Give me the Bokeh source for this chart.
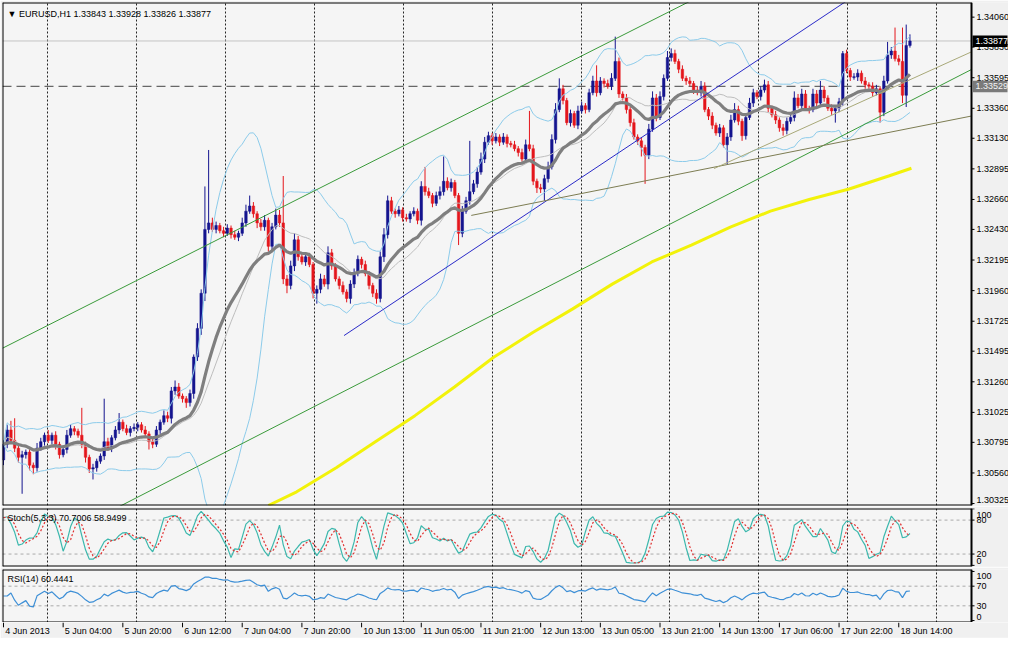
import numpy as np
import pandas as pd
from bokeh.plotting import figure
from bokeh.models import (ColumnDataSource, FixedTicker, Range1d, Label, Grid)
from bokeh.layouts import column
from bokeh.embed import file_html
from bokeh.resources import INLINE
from bokeh.core.properties import value

BASE = 1.3
PIP = 0.0001

# ---------------- data (prices in pips above 1.3000) ----------------
first_open = 66
close_pips = [
    78, 89, 81, 75, 68, 70, 72, 62, 60, 75,
    80, 85, 81, 85, 78, 70, 74, 85, 90, 88,
    85, 78, 68, 59, 60, 65, 69, 80, 75, 83,
    89, 95, 90, 87, 90, 91, 93, 89, 86, 80,
    78, 89, 95, 100, 98, 119, 122, 115, 113, 110,
    117, 145, 167, 194, 243, 248, 243, 246, 242, 240,
    244, 239, 237, 240, 248, 257, 261, 255, 248, 245,
    250, 230, 245, 254, 248, 205, 200, 215, 235, 222,
    218, 222, 216, 194, 197, 205, 201, 225, 215, 205,
    200, 195, 190, 201, 209, 220, 216, 209, 200, 194,
    190, 222, 239, 265, 257, 255, 258, 252, 251, 255,
    257, 250, 276, 272, 269, 263, 269, 272, 280, 275,
    279, 269, 240, 257, 265, 272, 278, 287, 297, 310,
    315, 311, 314, 310, 314, 309, 308, 305, 302, 297,
    308, 305, 280, 275, 274, 282, 291, 312, 335, 351,
    342, 325, 332, 323, 334, 338, 335, 348, 357, 348,
    357, 355, 353, 359, 372, 347, 344, 335, 325, 314,
    311, 306, 300, 320, 344, 329, 345, 359, 375, 378,
    372, 366, 359, 357, 355, 350, 348, 353, 335, 330,
    323, 317, 321, 308, 314, 327, 335, 326, 315, 329,
    340, 348, 345, 350, 354, 336, 331, 327, 321, 319,
    326, 329, 344, 338, 347, 336, 335, 347, 340, 350,
    344, 336, 334, 336, 341, 378, 365, 360, 360, 363,
    357, 354, 353, 348, 351, 333, 357, 377, 380, 374,
    372, 346, 384.3, 387.7,
]
wick_up = [
    3, 4, 7, 17, 2, 3, 2, 3, 2, 4,
    3, 2, 4, 2, 3, 2, 3, 4, 3, 2,
    2, 21, 2, 2, 3, 2, 2, 33, 3, 2,
    3, 7, 2, 3, 2, 3, 2, 2, 3, 2,
    2, 3, 2, 4, 3, 3, 5, 3, 2, 2,
    3, 2, 4, 3, 33, 56, 4, 3, 2, 3,
    3, 2, 3, 2, 4, 5, 8, 3, 2, 3,
    4, 2, 3, 5, 4, 36, 3, 4, 5, 3,
    3, 2, 3, 2, 3, 4, 3, 5, 3, 2,
    2, 3, 2, 3, 4, 3, 2, 3, 2, 2,
    3, 4, 5, 4, 3, 2, 3, 2, 3, 2,
    3, 2, 4, 15, 3, 2, 3, 4, 19, 3,
    3, 2, 2, 4, 3, 39, 3, 4, 5, 4,
    3, 2, 3, 2, 3, 2, 2, 3, 2, 3,
    4, 26, 3, 2, 3, 3, 4, 4, 5, 8,
    3, 2, 3, 2, 4, 3, 2, 3, 4, 12,
    3, 2, 3, 4, 19, 3, 2, 3, 2, 3,
    2, 3, 2, 4, 5, 3, 4, 3, 5, 4,
    3, 2, 3, 2, 3, 2, 3, 4, 3, 2,
    3, 2, 3, 2, 3, 4, 5, 3, 2, 3,
    4, 3, 2, 3, 4, 3, 2, 3, 2, 3,
    3, 2, 5, 3, 4, 3, 2, 4, 3, 7,
    3, 2, 3, 2, 3, 2, 3, 2, 3, 3,
    2, 3, 2, 3, 3, 2, 4, 10, 3, 18,
    3, 26, 16, 5.1,
]
wick_dn = [
    4, 3, 2, 3, 4, 28, 3, 4, 5, 3,
    2, 3, 2, 3, 4, 3, 2, 3, 2, 3,
    2, 3, 4, 3, 8, 3, 2, 3, 2, 3,
    2, 3, 2, 2, 3, 2, 3, 2, 3, 6,
    3, 2, 3, 2, 3, 4, 3, 2, 3, 4,
    3, 4, 3, 5, 6, 3, 2, 3, 2, 3,
    2, 3, 2, 3, 2, 3, 2, 3, 4, 3,
    3, 4, 3, 2, 3, 4, 6, 3, 4, 3,
    2, 3, 2, 4, 8, 3, 2, 4, 3, 2,
    3, 2, 3, 4, 3, 2, 3, 2, 3, 3,
    4, 3, 4, 3, 2, 3, 2, 3, 2, 3,
    2, 3, 4, 3, 2, 3, 2, 3, 3, 2,
    3, 2, 9, 3, 2, 3, 2, 3, 2, 3,
    2, 3, 2, 3, 2, 3, 2, 2, 3, 2,
    3, 2, 3, 4, 3, 9, 3, 2, 3, 2,
    3, 2, 3, 2, 3, 2, 3, 2, 2, 3,
    2, 3, 2, 3, 2, 3, 2, 3, 3, 2,
    3, 7, 22, 3, 2, 3, 2, 3, 2, 3,
    2, 3, 2, 3, 2, 3, 2, 3, 2, 3,
    3, 2, 3, 2, 15, 3, 2, 3, 4, 3,
    2, 3, 2, 3, 2, 3, 2, 3, 3, 4,
    3, 2, 3, 2, 3, 2, 3, 2, 3, 2,
    3, 2, 3, 9, 3, 3, 2, 3, 2, 3,
    2, 3, 2, 3, 2, 8, 3, 2, 3, 2,
    3, 6, 9, 1.7,
]

# long moving average (yellow), read at sample bars
yellow_bars = [71, 78.6, 89.2, 99.7, 110.3, 120.9, 131.5, 142, 152.6, 163.2,
               173.8, 184.4, 195, 205.6, 216, 226.7, 237.3, 243.4]
yellow_pips = [31, 41.5, 60, 80, 100, 122, 145, 164, 182, 201,
               218, 231, 245, 257, 266, 274, 284, 290]

# hand-drawn trend lines: (bar0, pips0, bar1, pips1, extend_left, colour)
trend_lines = [
    (-0.79, 151.0, 184.4, 418.75, True, "#3a9a3a"),
    (36.2, 37.75, 259.8, 366.25, True, "#3a9a3a"),
    (91.3, 161.5, 225.4, 417.25, False, "#2a2ac8"),
    (125.4, 253.75, 259.8, 330.25, False, "#7c7c52"),
    (190.5, 289.75, 259.8, 379.75, False, "#a8a878"),
]
hline_dashed = 1.33529
bid_price = 1.33877

price_ticks = [1.34060, 1.33830, 1.33595, 1.33360, 1.33130, 1.32895, 1.32660,
               1.32430, 1.32195, 1.31960, 1.31725, 1.31495, 1.31260, 1.31025,
               1.30795, 1.30560, 1.30325]
stoch_ticks = [100, 80, 20, 0]
rsi_ticks = [100, 70, 30, 0]
time_labels = ["4 Jun 2013", "5 Jun 04:00", "5 Jun 20:00", "6 Jun 12:00",
               "7 Jun 04:00", "7 Jun 20:00", "10 Jun 13:00", "11 Jun 05:00",
               "11 Jun 21:00", "12 Jun 13:00", "13 Jun 05:00", "13 Jun 21:00",
               "14 Jun 13:00", "17 Jun 06:00", "17 Jun 22:00", "18 Jun 14:00"]
time_label_bars = [0, 16, 32, 48, 64, 80, 96, 112, 128, 144, 160, 176, 192,
                   208, 224, 240]
grid_bars = [11.9 + 23.82 * k for k in range(11)]

header_main = "\u25BC EURUSD,H1  1.33843 1.33928 1.33826 1.33877"
header_stoch = "Stoch(5,3,3) 70.7006 58.9499"
header_rsi = "RSI(14) 60.4441"

# ---------------- derived series ----------------
n = len(close_pips)
bars = np.arange(n, dtype=float)
closes = np.array(close_pips, float)
opens = np.concatenate([[first_open], closes[:-1]])
top = np.maximum(opens, closes)
bot = np.minimum(opens, closes)
highs = top + np.array(wick_up, float)
lows = bot - np.array(wick_dn, float)

def px(v):
    return BASE + np.asarray(v, float) * PIP

def pxf(v):
    return float(BASE + v * PIP)

cs = pd.Series(px(closes))
hs = pd.Series(px(highs))
ls = pd.Series(px(lows))

ema20 = cs.ewm(span=20, adjust=False).mean()
sma20 = cs.rolling(20, min_periods=1).mean()
sd20 = cs.rolling(20, min_periods=1).std(ddof=0)
bb_up = sma20 + 2 * sd20
bb_dn = sma20 - 2 * sd20

ll5 = ls.rolling(5, min_periods=1).min()
hh5 = hs.rolling(5, min_periods=1).max()
k_raw = 100 * (cs - ll5).rolling(3, min_periods=1).sum() / (hh5 - ll5).rolling(3, min_periods=1).sum()
stoch_k = k_raw.fillna(50)
stoch_d = stoch_k.rolling(3, min_periods=1).mean()

delta = cs.diff().fillna(0)
gain = delta.clip(lower=0).ewm(alpha=1 / 14, adjust=False).mean()
loss = (-delta.clip(upper=0)).ewm(alpha=1 / 14, adjust=False).mean()
rsi = 100 - 100 / (1 + gain / loss.replace(0, np.nan))
rsi = rsi.fillna(50)

BULL = "#14148f"
BEAR = "#e4161c"
colors = [BULL if c >= o else BEAR for o, c in zip(opens, closes)]
body_bot = np.where(top - bot < 0.6, bot - 0.3, bot)
body_top = np.where(top - bot < 0.6, top + 0.3, top)

src = ColumnDataSource(dict(x=bars, hi=px(highs), lo=px(lows), top=px(body_top),
                            bot=px(body_bot), color=colors))

# ---------------- layout constants ----------------
FONT = "Liberation Sans"
BG = "#f5f5f5"
BORDER = "#f0f0f0"
X_LEFT = -0.26
AX_X = 259.5            # bar position of the price-scale line
CHART_W = 969           # pixels from frame left to the price-scale line
FRAME_W = 1006          # full frame width (chart + price scale)
S = (AX_X - X_LEFT) / CHART_W          # bars per pixel
X_END = X_LEFT + FRAME_W * S
xr = Range1d(X_LEFT, X_END)


def base_fig(frame_h, y_lo, y_hi, top_b, bot_b):
    f = figure(frame_width=FRAME_W, frame_height=frame_h, x_range=xr,
               y_range=Range1d(y_lo, y_hi),
               min_border_left=2, min_border_right=0, min_border_top=top_b,
               min_border_bottom=bot_b, toolbar_location=None, output_backend="svg",
               x_axis_location=None, y_axis_location=None,
               background_fill_color=BG, border_fill_color=BORDER,
               outline_line_color=None)
    f.xgrid.visible = False
    f.ygrid.visible = False
    f.add_layout(Grid(dimension=0, ticker=FixedTicker(ticks=grid_bars),
                      grid_line_color="black", grid_line_dash="2 2",
                      grid_line_alpha=0.85))
    return f


def finish_panel(f, y_lo, y_hi, frame_h, ticks, labels, tags=()):
    py = (y_hi - y_lo) / frame_h     # data units per pixel
    # price-scale area
    f.quad(left=[AX_X], right=[X_END + 1], bottom=[y_lo - py * 2], top=[y_hi + py * 2],
           fill_color=BORDER, line_color=None)
    # frame border of the chart area
    f.segment(x0=[X_LEFT, X_LEFT, X_LEFT, AX_X], y0=[y_hi, y_lo, y_lo, y_lo],
              x1=[AX_X, AX_X, X_LEFT, AX_X], y1=[y_hi, y_lo, y_hi, y_hi],
              line_color="black", line_width=2)
    f.segment(x0=[AX_X], y0=[y_lo], x1=[AX_X], y1=[y_hi], line_color="black",
              line_width=1)
    t = np.array(ticks, float)
    f.segment(x0=[AX_X] * len(t), y0=t, x1=[AX_X + 3 * S] * len(t), y1=t,
              line_color="black", line_width=1)
    ly = np.clip(t, y_lo + 6 * py, y_hi - 6 * py)
    f.text(x=[AX_X + 5 * S] * len(t), y=ly, text=labels, text_align="left",
           text_baseline="middle", text_font=value(FONT), text_font_size="9px",
           text_color="black")
    for yv, txt, fill, tcol in tags:
        f.quad(left=[AX_X + 1 * S], right=[AX_X + 36 * S], bottom=[yv - 6 * py],
               top=[yv + 5.5 * py], fill_color=fill, line_color=None)
        f.text(x=[AX_X + 4 * S], y=[yv], text=[txt], text_align="left",
               text_baseline="middle", text_font=value(FONT), text_font_size="9px",
               text_color=tcol)


# ---------------- main price panel ----------------
M_LO, M_HI, M_H = pxf(31.0), pxf(417.25), 503
main = base_fig(M_H, M_LO, M_HI, 2, 1)

main.segment(x0=[X_LEFT], y0=[bid_price], x1=[AX_X], y1=[bid_price],
             line_color="#c4c4c4", line_width=1)
main.segment(x0=[X_LEFT], y0=[hline_dashed], x1=[AX_X], y1=[hline_dashed],
             line_color="#444444", line_width=1, line_dash="9 5")

main.segment(x0="x", y0="hi", x1="x", y1="lo", color="color", line_width=1, source=src)
main.vbar(x="x", top="top", bottom="bot", width=0.68, fill_color="color",
          line_color="color", line_width=0.5, source=src)

main.line(bars, bb_up, line_color="#8ccbea", line_width=1)
main.line(bars, bb_dn, line_color="#8ccbea", line_width=1)
main.line(bars, sma20, line_color="#bdbdbd", line_width=1)
main.line(bars, ema20, line_color="#7f7f7f", line_width=3.2)
main.line(yellow_bars, px(yellow_pips), line_color="#f2f20a", line_width=3)

for b0, p0, b1, p1, ext_left, col in trend_lines:
    m = (p1 - p0) / (b1 - b0)
    xa = X_LEFT if ext_left else b0
    xb = AX_X
    main.segment(x0=[xa], y0=[pxf(p0 + m * (xa - b0))], x1=[xb],
                 y1=[pxf(p0 + m * (xb - b0))], line_color=col, line_width=1)

main.add_layout(Label(x=X_LEFT, y=M_HI, x_offset=5, y_offset=-6,
                      text=header_main, text_baseline="top", text_align="left",
                      text_font=FONT, text_font_size="9px", text_color="black"))
finish_panel(main, M_LO, M_HI, M_H, price_ticks, [f"{t:.5f}" for t in price_ticks],
             tags=[(hline_dashed, f"{hline_dashed:.5f}", "#7a7a7a", "#f4f4f4"),
                   (bid_price, f"{bid_price:.5f}", "#000000", "#ffffff")])

# ---------------- stochastic panel ----------------
S_LO, S_HI, S_H = -2.0, 100.5, 58
stp = base_fig(S_H, S_LO, S_HI, 2, 1)
for lvl in (20, 80):
    stp.segment(x0=[X_LEFT], y0=[lvl], x1=[AX_X], y1=[lvl], line_color="#aaaaaa",
                line_dash="3 3", line_width=1)
stp.line(bars, stoch_k, line_color="#3cb8ad", line_width=1.2)
stp.line(bars, stoch_d, line_color="#e03030", line_width=1.2, line_dash="2 2")
stp.add_layout(Label(x=X_LEFT, y=S_HI, x_offset=5, y_offset=-4, text=header_stoch,
                     text_baseline="top", text_font=FONT, text_font_size="9px",
                     text_color="black"))
finish_panel(stp, S_LO, S_HI, S_H, stoch_ticks, [str(t) for t in stoch_ticks])

# ---------------- RSI panel ----------------
R_LO, R_HI, R_H = -4.0, 104.0, 53
rp = base_fig(R_H, R_LO, R_HI, 2, 0)
for lvl in (30, 70):
    rp.segment(x0=[X_LEFT], y0=[lvl], x1=[AX_X], y1=[lvl], line_color="#aaaaaa",
               line_dash="3 3", line_width=1)
rp.line(bars, rsi, line_color="#3d8fd6", line_width=1.2)
rp.add_layout(Label(x=X_LEFT, y=R_HI, x_offset=5, y_offset=-4, text=header_rsi,
                    text_baseline="top", text_font=FONT, text_font_size="9px",
                    text_color="black"))
finish_panel(rp, R_LO, R_HI, R_H, rsi_ticks, [str(t) for t in rsi_ticks])

# ---------------- time-axis strip ----------------
strip = figure(frame_width=FRAME_W, frame_height=15, x_range=xr, y_range=Range1d(0, 1),
               min_border_left=2, min_border_right=0, min_border_top=0,
               min_border_bottom=1, toolbar_location=None, output_backend="svg",
               x_axis_location=None, y_axis_location=None,
               background_fill_color=BORDER, border_fill_color=BORDER,
               outline_line_color=None)
strip.xgrid.visible = False
strip.ygrid.visible = False
tb = np.array(time_label_bars, float)
strip.segment(x0=tb, y0=[1.0] * len(tb), x1=tb, y1=[0.68] * len(tb),
              line_color="black", line_width=1)
strip.text(x=tb + 0.45, y=[0.42] * len(tb), text=time_labels, text_align="left",
           text_baseline="middle", text_font=value(FONT), text_font_size="9px",
           text_color="black")

layout = column(main, stp, rp, strip, spacing=0)
open("out.html", "w").write(file_html(layout, INLINE, title="EURUSD,H1"))
